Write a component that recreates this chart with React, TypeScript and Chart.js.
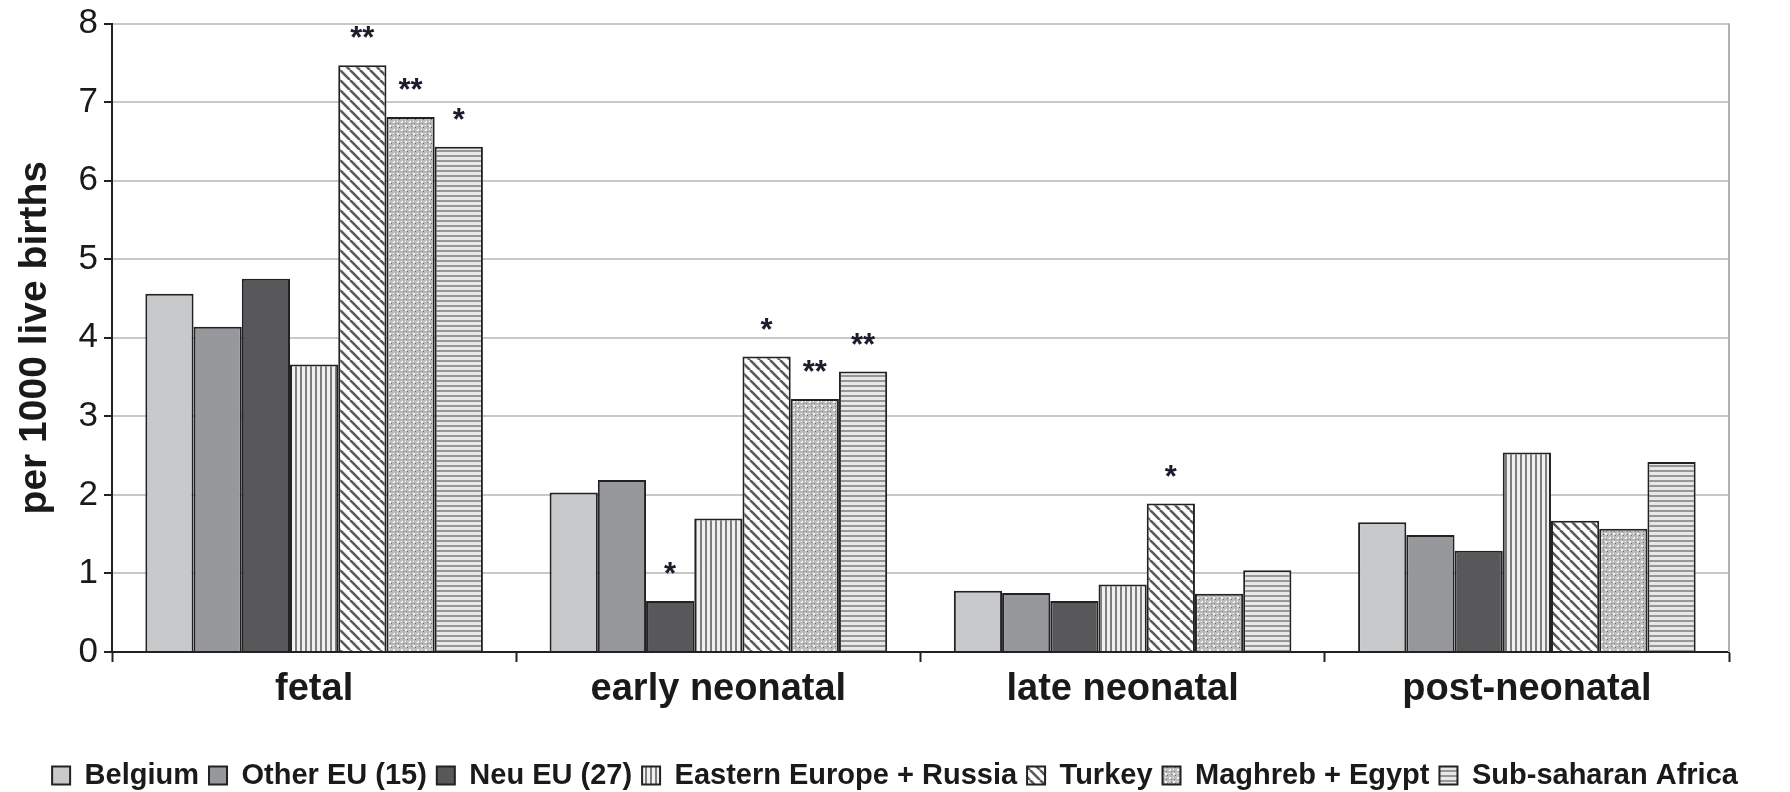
import React, { useEffect, useRef } from "react";
import { Chart, registerables } from "chart.js";
Chart.register(...registerables);

const categories = ["fetal", "early neonatal", "late neonatal", "post-neonatal"];
const groupNames = [
  "Belgium",
  "Other EU (15)",
  "Neu EU (27)",
  "Eastern Europe + Russia",
  "Turkey",
  "Maghreb + Egypt",
  "Sub-saharan Africa",
];
const belgium = [4.56, 2.03, 0.78, 1.65];
const otherEU = [4.14, 2.19, 0.75, 1.49];
const neuEU = [4.75, 0.65, 0.65, 1.29];
const easternEurope = [3.66, 1.7, 0.86, 2.54];
const turkey = [7.47, 3.76, 1.89, 1.67];
const maghreb = [6.81, 3.22, 0.74, 1.57];
const subSaharan = [6.43, 3.57, 1.04, 2.42];
const seriesValues = [belgium, otherEU, neuEU, easternEurope, turkey, maghreb, subSaharan];

const sigBelgium = ["", "", "", ""];
const sigOtherEU = ["", "", "", ""];
const sigNeuEU = ["", "*", "", ""];
const sigEastern = ["", "", "", ""];
const sigTurkey = ["**", "*", "*", ""];
const sigMaghreb = ["**", "**", "", ""];
const sigSubSaharan = ["*", "**", "", ""];
const significance = [sigBelgium, sigOtherEU, sigNeuEU, sigEastern, sigTurkey, sigMaghreb, sigSubSaharan];

const yTickValues = [0, 1, 2, 3, 4, 5, 6, 7, 8];

const FONT = "'Liberation Sans', Arial, Helvetica, sans-serif";

type Fill = string | CanvasPattern;

function makePattern(ctx: CanvasRenderingContext2D, kind: string): Fill {
  const c = document.createElement("canvas");
  const g = c.getContext("2d")!;
  if (kind === "vertical") {
    c.width = 5;
    c.height = 4;
    g.fillStyle = "#f0f0f0";
    g.fillRect(0, 0, 5, 4);
    g.fillStyle = "#7e7e7e";
    g.fillRect(0, 0, 2, 4);
  } else if (kind === "diagonal") {
    const s = 10;
    c.width = s;
    c.height = s;
    g.fillStyle = "#ffffff";
    g.fillRect(0, 0, s, s);
    g.strokeStyle = "#5a5a5a";
    g.lineWidth = 2.6;
    for (let k = -1; k <= 1; k++) {
      g.beginPath();
      g.moveTo(k * s, 0);
      g.lineTo(k * s + s, s);
      g.stroke();
    }
  } else if (kind === "dots") {
    c.width = 8;
    c.height = 8;
    g.fillStyle = "#bcbcbc";
    g.fillRect(0, 0, 8, 8);
    g.fillStyle = "#f4f4f4";
    g.fillRect(1, 1, 2, 2);
    g.fillRect(5, 5, 2, 2);
    g.fillRect(5, 1, 1, 1);
    g.fillRect(1, 5, 1, 1);
    g.fillStyle = "#6e6e6e";
    g.fillRect(3, 3, 1, 1);
    g.fillRect(7, 7, 1, 1);
    g.fillRect(3, 6, 1, 1);
    g.fillRect(6, 3, 1, 1);
  } else {
    c.width = 4;
    c.height = 5;
    g.fillStyle = "#e8e8e8";
    g.fillRect(0, 0, 4, 5);
    g.fillStyle = "#969696";
    g.fillRect(0, 0, 4, 2);
  }
  return ctx.createPattern(c, "repeat") as CanvasPattern;
}

export default function App() {
  const ref = useRef<HTMLCanvasElement | null>(null);

  useEffect(() => {
    const canvas = ref.current!;
    const ctx = canvas.getContext("2d")!;
    const fills: Fill[] = [
      "#c8c9cb",
      "#97989b",
      "#58585a",
      makePattern(ctx, "vertical"),
      makePattern(ctx, "diagonal"),
      makePattern(ctx, "dots"),
      makePattern(ctx, "horizontal"),
    ];

    const starPlugin = {
      id: "stars",
      afterDatasetsDraw(chart: any) {
        const c = chart.ctx;
        c.save();
        c.font = `bold 31px ${FONT}`;
        c.fillStyle = "#1c1c2c";
        c.textAlign = "center";
        c.textBaseline = "alphabetic";
        significance.forEach((row, di) => {
          const meta = chart.getDatasetMeta(di);
          row.forEach((s, i) => {
            if (!s) return;
            const el = meta.data[i];
            c.fillText(s, el.x, el.y - 17);
          });
        });
        c.restore();
      },
    };

    const borderPlugin = {
      id: "rightBorder",
      beforeDatasetsDraw(chart: any) {
        const { ctx: c, chartArea } = chart;
        c.save();
        c.strokeStyle = "#b0b0b0";
        c.lineWidth = 2;
        c.beginPath();
        c.moveTo(chartArea.right, chartArea.top);
        c.lineTo(chartArea.right, chartArea.bottom);
        c.stroke();
        c.restore();
      },
    };

    const chart = new Chart(canvas, {
      type: "bar",
      data: {
        labels: categories,
        datasets: seriesValues.map((vals, i) => ({
          label: groupNames[i],
          data: vals,
          backgroundColor: fills[i] as any,
          borderColor: "#222222",
          borderWidth: 2,
          borderSkipped: "start",
          categoryPercentage: 0.835,
          barPercentage: 1.0,
          yAxisID: "y",
        })),
      },
      options: {
        animation: false,
        responsive: false,
        maintainAspectRatio: false,
        layout: { padding: { top: 22, right: 0, left: 0, bottom: -8 } },
        plugins: {
          tooltip: { enabled: false },
          legend: {
            position: "bottom",
            labels: {
              boxWidth: 18,
              boxHeight: 18,
              padding: 10,
              color: "#1a1a1a",
              font: { family: FONT, size: 29, weight: "bold" },
            },
          },
        },
        scales: {
          x: {
            grid: {
              offset: true,
              drawOnChartArea: false,
              drawTicks: true,
              tickLength: 10,
              tickColor: "#222",
              tickWidth: 2,
            },
            border: { color: "#222", width: 2 },
            ticks: {
              color: "#1a1a1a",
              padding: 5,
              font: { family: FONT, size: 38, weight: "bold" },
            },
            afterFit: (s: any) => {
              s.height = 99;
            },
          },
          y: {
            min: 0,
            max: 8,
            afterBuildTicks: (s: any) => {
              s.ticks = yTickValues.map((v) => ({ value: v }));
            },
            grid: {
              color: "#c8c8c8",
              lineWidth: 2,
              tickColor: "#222",
              tickLength: 8,
              tickWidth: 2,
            },
            border: { color: "#222", width: 2 },
            ticks: {
              color: "#1a1a1a",
              padding: 6,
              font: { family: FONT, size: 35, lineHeight: 1.0 },
            },
            title: {
              display: true,
              text: "per 1000 live births",
              color: "#1a1a1a",
              font: { family: FONT, size: 39, weight: "bold" },
              padding: { top: 12, bottom: 0 },
            },
            afterFit: (s: any) => {
              s.width = 112;
            },
          },
          yRight: {
            type: "linear",
            position: "right",
            display: true,
            min: 0,
            max: 8,
            grid: { display: false, drawTicks: false },
            border: { display: false },
            ticks: { display: false },
            afterFit: (s: any) => {
              s.width = 61;
            },
          },
        },
      },
      plugins: [starPlugin, borderPlugin],
    });
    return () => chart.destroy();
  }, []);

  return (
    <div style={{ position: "fixed", left: 0, top: 0, width: 1790, height: 792, background: "#fff" }}>
      <canvas ref={ref} width={1790} height={792} style={{ width: 1790, height: 792, display: "block" }} />
    </div>
  );
}
